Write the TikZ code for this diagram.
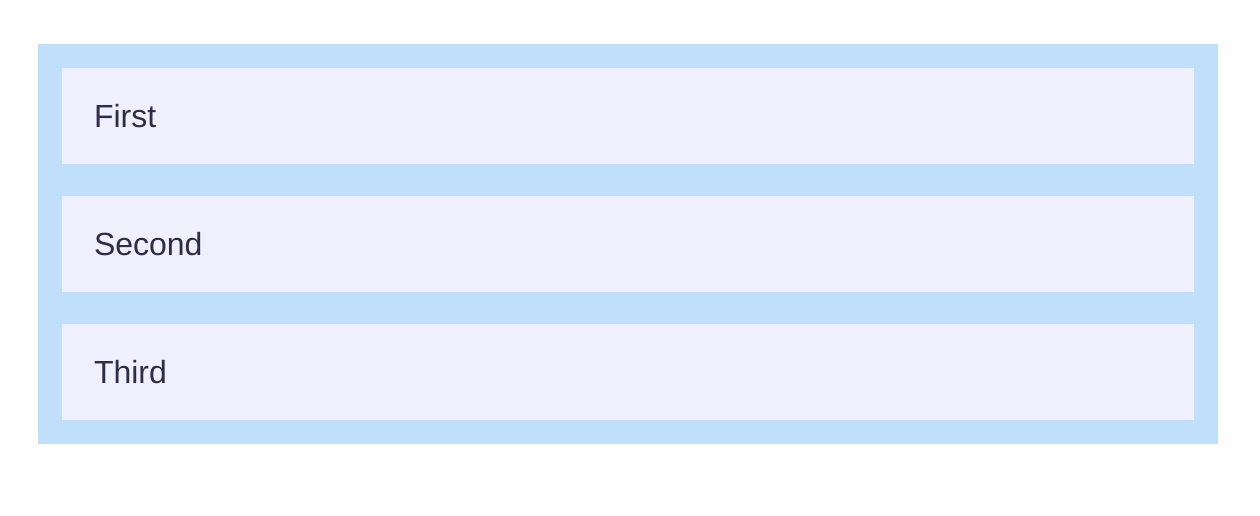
\documentclass[tikz,border=0pt]{standalone}
\usepackage{fontspec}
\setmainfont{Liberation Sans}
\usetikzlibrary{positioning,fit,backgrounds}
\definecolor{FrameBlue}{HTML}{BFDFFB}
\definecolor{RowLilac}{HTML}{EFEFFD}
\definecolor{InkNavy}{HTML}{2E2D49}

\begin{document}
\begin{tikzpicture}[x=1pt, y=-1pt,
  row/.style={fill=RowLilac, draw=none, minimum width=1132pt,
    minimum height=96pt, text width=1068pt, inner xsep=32pt, outer sep=0pt,
    text height=23pt, text depth=0pt, align=left,
    font=\fontsize{32}{38}\selectfont, text=InkNavy}
]
\useasboundingbox (0,0) rectangle (1260,516);

\node[row, anchor=north west] (first) at (62,68) {First};
\node[row, below=32pt of first] (second) {Second};
\node[row, below=32pt of second] (third) {Third};

\begin{scope}[on background layer]
  \node[fill=FrameBlue, inner sep=24pt, outer sep=0pt, fit=(first)(third)] (frame) {};
\end{scope}

\end{tikzpicture}
\end{document}
